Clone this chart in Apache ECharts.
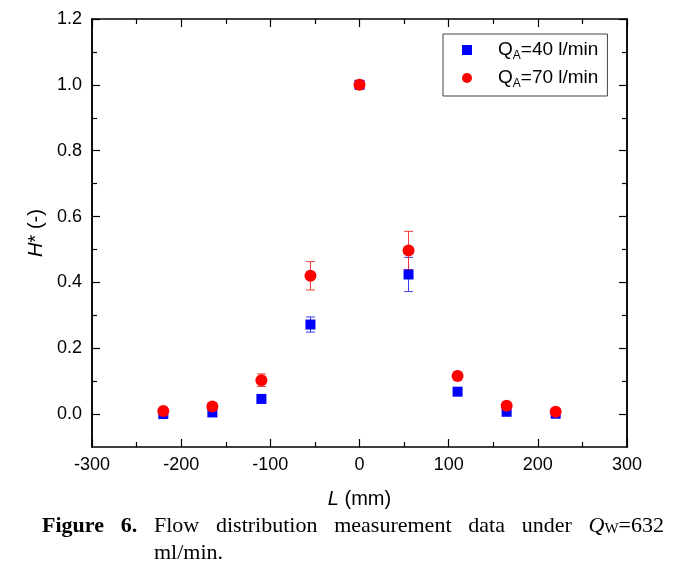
<!DOCTYPE html>
<html><head><meta charset="utf-8">
<script src="https://cdn.jsdelivr.net/npm/echarts@6/dist/echarts.min.js"></script>
<style>html,body{margin:0;padding:0;background:#fff}#c{width:677px;height:573px}</style>
</head><body><div id="c"></div>
<script>
// ---- data ----
const positions = [-220, -165, -110, -55, 0, 55, 110, 165, 220];
const h40 = [0.000, 0.005, 0.046, 0.272, 1.000, 0.424, 0.068, 0.007, 0.001];
const err40 = [0.003, 0.003, 0.004, 0.023, 0.006, 0.052, 0.005, 0.003, 0.003];
const h70 = [0.009, 0.023, 0.103, 0.420, 1.000, 0.497, 0.116, 0.025, 0.007];
const err70 = [0.004, 0.005, 0.019, 0.043, 0.008, 0.058, 0.012, 0.005, 0.004];
const seriesNames = ['QA=40 l/min', 'QA=70 l/min'];
const seriesRates = ['=40 l/min', '=70 l/min'];
const yMajorTicks = [0.0, 0.2, 0.4, 0.6, 0.8, 1.0, 1.2];
const yMinorTicks = [0.1, 0.3, 0.5, 0.7, 0.9, 1.1];
const captionWords = ['Flow', 'distribution', 'measurement', 'data', 'under'];

const BLUE = '#0000ff', RED = '#ff0000';
const SANS = '"Liberation Sans", Arial, sans-serif';
const SERIF = '"Liberation Serif", "Times New Roman", serif';

const chart = echarts.init(document.getElementById('c'), null, {renderer: 'canvas'});

function pts(xs, ys) { return xs.map((x, i) => [x, ys[i]]); }
function errs(xs, ys, es) { return xs.map((x, i) => [x, ys[i] - es[i], ys[i] + es[i]]); }

function errRender(color) {
  return function (params, api) {
    const x = api.value(0), lo = api.value(1), hi = api.value(2);
    const a = api.coord([x, hi]), b = api.coord([x, lo]);
    const w = 4.5;
    const st = {stroke: color, lineWidth: 1};
    return {type: 'group', children: [
      {type: 'line', shape: {x1: a[0], y1: a[1], x2: b[0], y2: b[1]}, style: st},
      {type: 'line', shape: {x1: a[0] - w, y1: a[1], x2: a[0] + w, y2: a[1]}, style: st},
      {type: 'line', shape: {x1: b[0] - w, y1: b[1], x2: b[0] + w, y2: b[1]}, style: st}
    ]};
  };
}

// ---- caption layout (justified line) ----
const ctx = document.createElement('canvas').getContext('2d');
function tw(t, f) { ctx.font = f; return ctx.measureText(t).width; }
const FS = 22;
const fBold = 'bold ' + FS + 'px ' + SERIF;
const fReg = FS + 'px ' + SERIF;
const fIt = 'italic ' + FS + 'px ' + SERIF;
const fSub = '15px ' + SERIF;
const line1 = [];
line1.push([{t: 'Figure', f: fBold}]);
line1.push([{t: '6.', f: fBold}]);
captionWords.forEach(w => line1.push([{t: w, f: fReg}]));
line1.push([{t: 'Q', f: fIt}, {t: 'W', f: fSub, dy: 3}, {t: '=632', f: fReg}]);
const startX = 42, endX = 664, y1 = 526, y2 = 553;
const widths = line1.map(parts => parts.reduce((s, p) => s + tw(p.t, p.f), 0));
const total = widths.reduce((a, b) => a + b, 0);
const gap = (endX - startX - total) / (line1.length - 1);
const graphics = [];
let cx = startX, flowX = 0;
line1.forEach((parts, i) => {
  if (i === 2) flowX = cx;
  let px = cx;
  parts.forEach(p => {
    graphics.push({type: 'text', x: px, y: y1 + (p.dy || 0), silent: true,
      style: {text: p.t, font: p.f, fill: '#000', verticalAlign: 'middle', align: 'left'}});
    px += tw(p.t, p.f);
  });
  cx += widths[i] + gap;
});
graphics.push({type: 'text', x: flowX, y: y2, silent: true,
  style: {text: 'ml/min.', font: fReg, fill: '#000', verticalAlign: 'middle', align: 'left'}});

const axisLineStyle = {color: '#000', width: 1.5};
function yAxisDef(pos, ticks, len, labels) {
  return {
    type: 'value', position: pos, min: -0.1, max: 1.2,
    axisLine: {show: true, onZero: false, lineStyle: axisLineStyle},
    axisTick: {show: true, inside: true, length: len, customValues: ticks, lineStyle: {color: '#000', width: 1.2}},
    axisLabel: labels ? {show: true, customValues: yMajorTicks, margin: 10, fontSize: 18, fontFamily: SANS, color: '#000',
      formatter: v => v.toFixed(1)} : {show: false},
    splitLine: {show: false}
  };
}
function xAxisDef(pos, labels) {
  return {
    type: 'value', position: pos, min: -300, max: 300, interval: 100,
    axisLine: {show: true, onZero: false, lineStyle: axisLineStyle},
    axisTick: {show: true, inside: true, length: 8, lineStyle: {color: '#000', width: 1.2}},
    minorTick: {show: true, splitNumber: 2, length: 5, lineStyle: {color: '#000', width: 1.2}},
    axisLabel: labels ? {show: true, margin: 9, fontSize: 18, fontFamily: SANS, color: '#000'} : {show: false},
    splitLine: {show: false}, minorSplitLine: {show: false}
  };
}

const xb = xAxisDef('bottom', true);
xb.name = '{i|L} (mm)';
xb.nameLocation = 'middle';
xb.nameGap = 42;
xb.nameTextStyle = {fontSize: 20, fontFamily: SANS, color: '#000', rich: {i: {fontStyle: 'italic', fontSize: 20, fontFamily: SANS, color: '#000'}}};
const yl = yAxisDef('left', yMajorTicks, 8, true);
yl.name = '{i|H}* (-)';
yl.nameLocation = 'middle';
yl.nameGap = 39;
yl.nameTextStyle = {fontSize: 20, fontFamily: SANS, color: '#000', rich: {i: {fontStyle: 'italic', fontSize: 20, fontFamily: SANS, color: '#000'}}};

const legendRich = {
  sp: {width: 21, lineHeight: 24},
  q: {fontSize: 19, fontFamily: SANS, color: '#000', lineHeight: 24},
  s: {fontSize: 12, fontFamily: SANS, color: '#000', lineHeight: 12, verticalAlign: 'top', padding: [12, 0, 0, 0]},
  t: {fontSize: 19, fontFamily: SANS, color: '#000', lineHeight: 24}
};

chart.setOption({
  animation: false,
  backgroundColor: '#fff',
  grid: {left: 92, right: 50, top: 19, bottom: 126, outerBoundsMode: 'none', containLabel: false},
  xAxis: [xb, xAxisDef('top', false)],
  yAxis: [yl, yAxisDef('left', yMinorTicks, 5, false), yAxisDef('right', yMajorTicks, 8, false), yAxisDef('right', yMinorTicks, 5, false)],
  legend: {
    show: true, orient: 'vertical', left: 443, top: 34,
    padding: [4, 9, 6, 19], itemGap: 4, itemWidth: 10, itemHeight: 10,
    borderColor: '#444', borderWidth: 1, backgroundColor: '#fff',
    data: [{name: seriesNames[0], icon: 'rect'}, {name: seriesNames[1], icon: 'circle'}],
    formatter: name => '{sp|}{q|Q}{s|A}{t|' + seriesRates[seriesNames.indexOf(name)] + '}',
    textStyle: {rich: legendRich}
  },
  graphic: graphics,
  series: [
    {type: 'custom', name: 'err40', renderItem: errRender('#3a3aee'), data: errs(positions, h40, err40),
      encode: {x: 0, y: [1, 2]}, z: 1, silent: true},
    {type: 'custom', name: 'err70', renderItem: errRender('#ee3a3a'), data: errs(positions, h70, err70),
      encode: {x: 0, y: [1, 2]}, z: 1, silent: true},
    {type: 'scatter', name: seriesNames[0], symbol: 'rect', symbolSize: 10, itemStyle: {color: BLUE, opacity: 1},
      data: pts(positions, h40), z: 3},
    {type: 'scatter', name: seriesNames[1], symbol: 'circle', symbolSize: 12, itemStyle: {color: RED, opacity: 1},
      data: pts(positions, h70), z: 4}
  ]
});
</script></body></html>
